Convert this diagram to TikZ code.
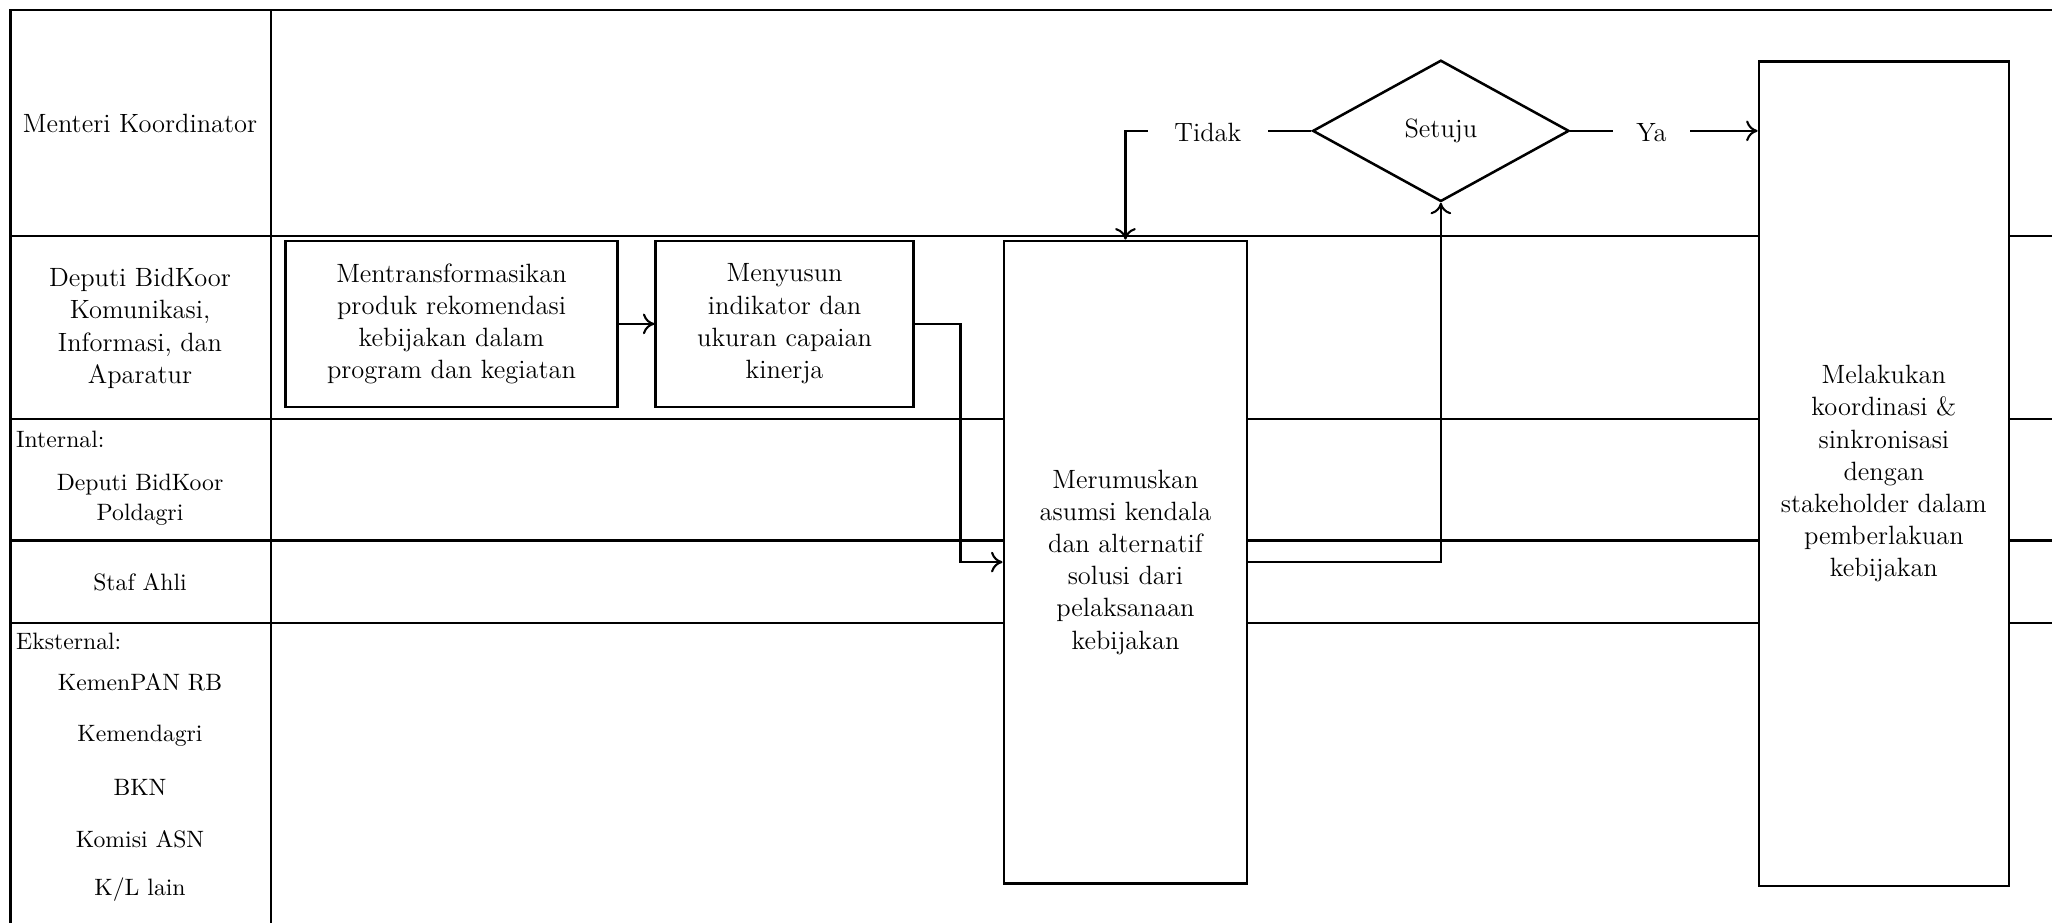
\documentclass[tikz,border=0pt]{standalone}
\usetikzlibrary{shapes.geometric,arrows.meta}
\begin{document}
\begin{tikzpicture}[x=0.02cm,y=-0.02cm,
  grid/.style={line width=0.9pt},
  txt/.style={align=center,font=\fontsize{11.5}{14}\selectfont},
  stxt/.style={align=center,font=\fontsize{10.3}{13}\selectfont},
  box/.style={txt,draw,line width=1.1pt,fill=white,inner sep=0pt},
  conn/.style={line width=0.9pt},
  arr/.style={conn,-{To[length=5pt,width=9pt]}},
]
\useasboundingbox (0,0) rectangle (1568,705);

% grid
\draw[grid] (1568,8) -- (8,8) -- (8,705);
\draw[grid] (207,8) -- (207,705);
\foreach \yy in {180,320,413,476} \draw[grid] (8,\yy) -- (1568,\yy);

% lane labels
\node[txt] (l1) at (107,94) {Menteri Koordinator};
\node[txt] (l2) at (107,251) {Deputi BidKoor\\Komunikasi,\\Informasi, dan\\Aparatur};
\node[stxt,anchor=west,inner sep=0pt] (l3) at (12,336) {Internal:};
\node[stxt] (l4) at (107,382) {Deputi BidKoor\\Poldagri};
\node[stxt] (l5) at (107,445) {Staf Ahli};
\node[stxt,anchor=west,inner sep=0pt] (l6) at (12,490) {Eksternal:};
\node[stxt] (l7) at (107,521) {KemenPAN RB};
\node[stxt] (l8) at (107,562) {Kemendagri};
\node[stxt] (l9) at (107,602) {BKN};
\node[stxt] (l10) at (107,641) {Komisi ASN};
\node[stxt] (l11) at (107,680) {K/L lain};

% process boxes
\node[box,minimum width=5.07cm,minimum height=2.54cm] (b1) at (345,247.5)
  {Mentransformasikan\\produk rekomendasi\\kebijakan dalam\\program dan kegiatan};
\node[box,minimum width=3.94cm,minimum height=2.54cm] (b2) at (599.5,247.5)
  {Menyusun\\indikator dan\\ukuran capaian\\kinerja};
\node[box,minimum width=3.72cm,minimum height=9.82cm] (mer) at (860,429.5)
  {Merumuskan\\asumsi kendala\\dan alternatif\\solusi dari\\pelaksanaan\\kebijakan};
\node[box,minimum width=3.82cm,minimum height=12.6cm] (mel) at (1439.5,362)
  {Melakukan\\koordinasi \&\\sinkronisasi\\dengan\\stakeholder dalam\\pemberlakuan\\kebijakan};
\node[box,diamond,minimum width=3.92cm,minimum height=2.16cm] (dia) at (1101,100) {Setuju};

% branch labels
\node[txt,inner xsep=0.4cm,inner ysep=0pt] (tidak) at (923,101) {Tidak};
\node[txt,inner xsep=0.35cm,inner ysep=0pt] (ya) at (1262,101) {Ya};

% connectors
\draw[arr] (b1.east) -- (b2.west);
\draw[arr] (b2.east) -- ++(35,0) |- (mer.west);
\draw[arr] (mer.east) -| (dia.south);
\draw[conn] (dia.west) -- (dia.west -| tidak.east);
\draw[arr] (dia.west -| tidak.west) -| (mer.north);
\draw[conn] (dia.east) -- (dia.east -| ya.west);
\draw[arr] (dia.east -| ya.east) -- (dia.east -| mel.west);
\end{tikzpicture}
\end{document}
